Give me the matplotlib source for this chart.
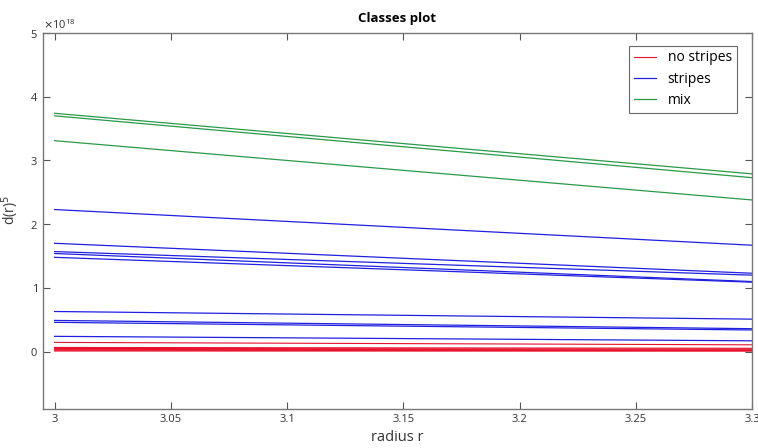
import numpy as np
import matplotlib.pyplot as plt

r = [3.0, 3.3]

# d(r)^5 at both ends of the radius range, in units of 1e18
no_stripes = [
    [0.145, 0.107],
    [0.066, 0.053],
    [0.050, 0.040],
    [0.036, 0.028],
    [0.022, 0.017],
    [0.010, 0.008],
]
stripes = [
    [2.23, 1.67],
    [1.70, 1.23],
    [1.57, 1.20],
    [1.54, 1.10],
    [1.48, 1.09],
    [0.63, 0.51],
    [0.49, 0.36],
    [0.46, 0.34],
    [0.24, 0.17],
]
mix = [
    [3.74, 2.79],
    [3.70, 2.73],
    [3.31, 2.38],
]

plt.rcParams['font.family'] = ['Open Sans', 'DejaVu Sans']
fig = plt.figure(figsize=(7.58, 4.48), dpi=100)
ax = fig.add_axes([43 / 758, 1 - 409 / 448, (752 - 43) / 758, (409 - 33) / 448])

blue = '#2020e0'
green = '#2a9a4a'
red = '#e8102a'

for i, y in enumerate(mix):
    ax.plot(r, np.array(y) * 1e18, color=green, lw=0.9, label='mix' if i == 0 else None)
for i, y in enumerate(stripes):
    ax.plot(r, np.array(y) * 1e18, color=blue, lw=0.9, label='stripes' if i == 0 else None)
for i, y in enumerate(no_stripes):
    ax.plot(r, np.array(y) * 1e18, color=red, lw=0.8, label='no stripes' if i == 0 else None)

ax.set_xlim(2.995, 3.3)
ax.set_ylim(-0.9e18, 5e18)
ax.set_xticks([3, 3.05, 3.1, 3.15, 3.2, 3.25, 3.3])
ax.set_xticklabels(['3', '3.05', '3.1', '3.15', '3.2', '3.25', '3.3'])
ax.set_yticks(np.arange(0, 6) * 1e18)
ax.yaxis.get_major_formatter().set_useMathText(True)
ax.yaxis.get_offset_text().set_fontsize(8)
ax.yaxis.get_offset_text().set_color('#444444')

ax.tick_params(direction='in', top=True, right=True, length=5, width=0.8,
               colors='#555555', labelsize=8, labelcolor='#333333')
for s in ax.spines.values():
    s.set_color('#777777')
    s.set_linewidth(1.0)

ax.set_title('Classes plot', fontsize=9.5, fontweight='bold', pad=8)
ax.set_xlabel('radius r', fontsize=10.5, color='#333333')
ax.set_ylabel('d(r)$^5$', fontsize=10, color='#333333')
ax.yaxis.set_label_coords(-0.031, 0.53)

handles, labels = ax.get_legend_handles_labels()
order = [labels.index(n) for n in ['no stripes', 'stripes', 'mix']]
leg = ax.legend([handles[i] for i in order], [labels[i] for i in order],
                loc='upper right', bbox_to_anchor=(0.988, 0.985), fontsize=10,
                fancybox=False, edgecolor='#444444', handlelength=1.6,
                borderpad=0.35, labelspacing=0.45)
leg.get_frame().set_linewidth(0.8)

fig.savefig('out.png', dpi=100)
